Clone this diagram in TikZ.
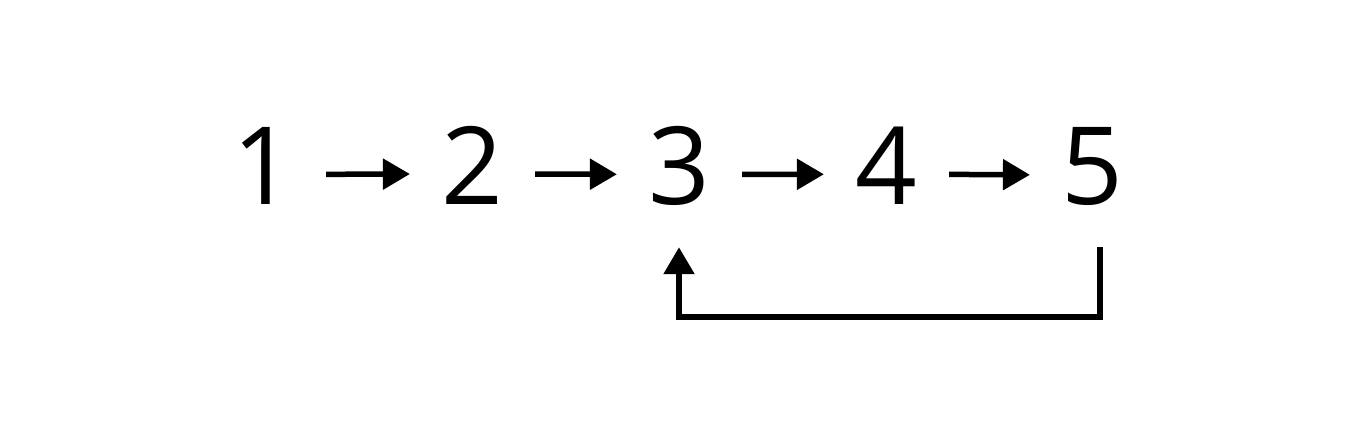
\documentclass[tikz,border=0pt]{standalone}
\usepackage{fontspec}
\setmainfont{Open Sans}
\usetikzlibrary{arrows.meta}
\begin{document}
\begin{tikzpicture}[x=1pt,y=1pt,
  digit/.style={inner sep=0pt, anchor=base, font=\fontsize{108}{108}\selectfont},
  fwd/.style={line width=5.5pt, shorten <=32pt, shorten >=31pt, -{Triangle[width=30pt,length=27pt]}},
  back/.style={line width=5.5pt, line cap=butt, -{Triangle[width=30pt,length=27pt]}}]
\useasboundingbox (0,0) rectangle (1366,430);
\node[digit] (n1) at (263,225) {1};
\node[digit] (n2) at (472,225) {2};
\node[digit] (n3) at (679,225) {3};
\node[digit] (n4) at (886,225) {4};
\node[digit] (n5) at (1092,225) {5};
\foreach \a/\b in {n1/n2,n2/n3,n3/n4,n4/n5}{
  \draw[fwd] ([yshift=-8pt]\a.east) -- ([yshift=-8pt]\b.west);
}
\draw[back] ([xshift=8pt,yshift=-41pt]n5.south) -- ++(0,-70) -| ([yshift=-41pt]n3.south);
\end{tikzpicture}
\end{document}
